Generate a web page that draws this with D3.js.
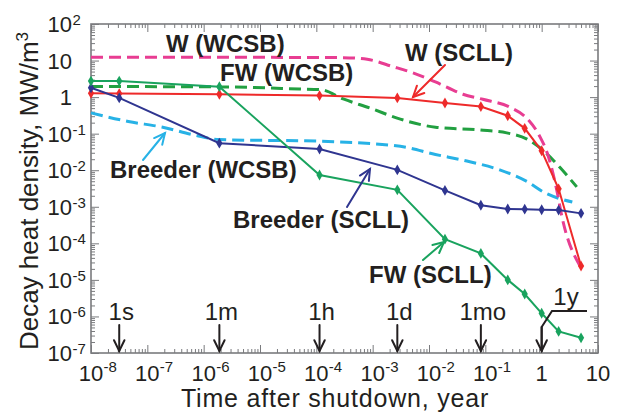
<!DOCTYPE html>
<html><head><meta charset="utf-8">
<script src="https://cdn.jsdelivr.net/npm/d3@7"></script>
<style>
html,body{margin:0;padding:0;background:#fff;}
svg{display:block;font-family:"Liberation Sans",Arial,Helvetica,sans-serif;}
</style></head><body>
<svg id="chart" width="618" height="417"></svg>
<script>
// Decay heat density after shutdown (time in years, density in MW/m^3)

// Time steps shared by the SCLL curves (with markers)
const stepTimes = [1e-8, 3.17e-8, 1.9e-6, 1.14e-4, 2.74e-3, 0.0192, 0.0833, 0.25, 0.5, 1, 2, 5];
const wScll       = [1.27, 1.25, 1.2, 1.1, 0.95, 0.69, 0.55, 0.31, 0.14, 0.034, 0.0031, 2.4e-5];
const breederScll = [1.8, 0.95, 0.055, 0.038, 0.0102, 0.0028, 0.0011, 8.7e-4, 8.6e-4, 8.3e-4, 8.1e-4, 6.6e-4];
const fwScll      = [2.75, 2.75, 1.93, 7.4e-3, 2.9e-3, 1.3e-4, 5.3e-5, 1.0e-5, 4.1e-6, 1.22e-6, 3.9e-7, 2.6e-7];

// WCSB curves (dashed)
const wWcsbTimes = [1e-8, 1e-6, 1e-4, 3e-4, 8e-4, 2.3e-3, 5.2e-3, 0.013, 0.04, 0.09, 0.28, 0.55, 0.93, 1.25, 1.85, 2.3, 4.8];
const wWcsb      = [12.3, 12.3, 12.1, 12, 10.8, 6.8, 4.6, 2.6, 1.2, 0.87, 0.52, 0.26, 0.083, 0.03, 2.9e-3, 5.2e-4, 2.4e-5];
const fwWcsbTimes = [1e-8, 1.9e-6, 5e-5, 1.2e-4, 3e-4, 9e-4, 3.1e-3, 0.013, 0.081, 0.24, 0.55, 1.06, 2.1, 4.2];
const fwWcsb      = [1.95, 1.9, 1.67, 1.6, 0.89, 0.5, 0.25, 0.15, 0.126, 0.105, 0.071, 0.035, 0.012, 3.5e-3];
const breederWcsbTimes = [1e-8, 4.6e-8, 1.8e-7, 7e-7, 1.9e-6, 1.2e-4, 3.1e-3, 0.013, 0.047, 0.18, 0.55, 1.15, 3.5];
const breederWcsb      = [0.37, 0.215, 0.152, 0.091, 0.069, 0.062, 0.045, 0.027, 0.0178, 0.0102, 0.0049, 0.0024, 0.00135];

// Axis decades
const xTickExps = [-8, -7, -6, -5, -4, -3, -2, -1, 0, 1];
const yTickExps = [-7, -6, -5, -4, -3, -2, -1, 0, 1, 2];

// Reference durations (in years)
const timeMarkLabels = ["1s", "1m", "1h", "1d", "1mo", "1y"];
const timeMarkValues = [3.17e-8, 1.9e-6, 1.14e-4, 2.74e-3, 0.0833, 1];

const svg = d3.select("#chart");
const L = 91, R = 598, T = 24, B = 353;
const x = d3.scaleLog().domain([1e-8, 10]).range([L, R]);
const y = d3.scaleLog().domain([1e-7, 100]).range([B, T]);

const ink = "#231f20";
const axisGray = "#7a7b7e";

// ---- ticks (inside, on all four sides) ----
const majorX = xTickExps.map(e => Math.pow(10, e));
const majorY = yTickExps.map(e => Math.pow(10, e));
const minorX = [], minorY = [];
xTickExps.slice(0, -1).forEach(e => { for (let k = 2; k <= 9; k++) minorX.push(k * Math.pow(10, e)); });
yTickExps.slice(0, -1).forEach(e => { for (let k = 2; k <= 9; k++) minorY.push(k * Math.pow(10, e)); });

function tickAxis(gen, vals, size, tr) {
  const g = svg.append("g").attr("transform", tr)
    .call(gen.tickValues(vals).tickSizeInner(size).tickSizeOuter(0).tickFormat(""));
  g.select(".domain").remove();
  g.selectAll("text").remove();
  g.selectAll("line").attr("stroke", axisGray).attr("stroke-width", 1);
  return g;
}
tickAxis(d3.axisBottom(x), majorX, -8, `translate(0,${B})`);
tickAxis(d3.axisBottom(x), minorX, -4, `translate(0,${B})`);
tickAxis(d3.axisTop(x), majorX, -8, `translate(0,${T})`);
tickAxis(d3.axisTop(x), minorX, -4, `translate(0,${T})`);
tickAxis(d3.axisLeft(y), majorY, -8, `translate(${L},0)`);
tickAxis(d3.axisLeft(y), minorY, -4, `translate(${L},0)`);
tickAxis(d3.axisRight(y), majorY, -8, `translate(${R},0)`);
tickAxis(d3.axisRight(y), minorY, -4, `translate(${R},0)`);

svg.append("rect").attr("x", L).attr("y", T).attr("width", R - L).attr("height", B - T)
  .attr("fill", "none").attr("stroke", axisGray).attr("stroke-width", 1.6);

// ---- tick labels with superscript exponents ----
const xl = svg.append("g").attr("fill", ink);
xTickExps.forEach(e => {
  const cx = x(Math.pow(10, e));
  if (e === 0 || e === 1) {
    xl.append("text").attr("x", cx).attr("y", 381).attr("text-anchor", "middle")
      .attr("font-size", 22).text(e === 0 ? "1" : "10");
  } else {
    xl.append("text").attr("x", cx).attr("y", 381).attr("text-anchor", "middle")
      .attr("font-size", 22).text("10");
    xl.append("text").attr("x", cx + 12.5).attr("y", 372).attr("font-size", 15).text(String(e));
  }
});
const yl = svg.append("g").attr("fill", ink);
yTickExps.forEach(e => {
  const cy = y(Math.pow(10, e));
  yl.append("text").attr("x", 72).attr("y", cy + 8).attr("text-anchor", "end")
    .attr("font-size", 22).text(e === 0 ? "1" : "10");
  if (e !== 0 && e !== 1) {
    yl.append("text").attr("x", 72.5).attr("y", cy + 1).attr("font-size", 15).text(String(e));
  }
});

// ---- axis titles ----
svg.append("text").attr("x", 335).attr("y", 407).attr("text-anchor", "middle")
  .attr("font-size", 25).attr("letter-spacing", 0.8).attr("fill", ink).text("Time after shutdown, year");
const yt = svg.append("text").attr("transform", "translate(38,191) rotate(-90)")
  .attr("text-anchor", "middle").attr("font-size", 26).attr("fill", ink);
yt.append("tspan").text("Decay heat density, MW/m");
yt.append("tspan").attr("dy", -10).attr("font-size", 17).text("3");

// ---- curves ----
const line = d3.line().x(d => x(d[0])).y(d => y(d[1]));
const smooth = d3.line().x(d => x(d[0])).y(d => y(d[1])).curve(d3.curveMonotoneX);
const zip = (t, v) => t.map((ti, i) => [ti, v[i]]);

const dashed = [
  { t: breederWcsbTimes, v: breederWcsb, c: "#27b2e6" },
  { t: fwWcsbTimes, v: fwWcsb, c: "#22a041" },
  { t: wWcsbTimes, v: wWcsb, c: "#e83d92" }
];
dashed.forEach(s => {
  svg.append("path").attr("d", smooth(zip(s.t, s.v))).attr("fill", "none")
    .attr("stroke", s.c).attr("stroke-width", 3).attr("stroke-dasharray", "12,6");
});

const solid = [
  { v: wScll, c: "#ee2a2a" },
  { v: breederScll, c: "#2f3590" },
  { v: fwScll, c: "#19a35e" }
];
const diamond = d3.symbol().type(d3.symbolDiamond).size(34);
solid.forEach(s => {
  const pts = zip(stepTimes, s.v);
  svg.append("path").attr("d", line(pts)).attr("fill", "none")
    .attr("stroke", s.c).attr("stroke-width", 2);
  svg.append("g").selectAll("path").data(pts).join("path")
    .attr("d", diamond).attr("fill", s.c)
    .attr("transform", d => `translate(${x(d[0])},${y(d[1])})`);
});

// ---- arrows ----
function arrow(x1, y1, x2, y2, color, w) {
  const a = Math.atan2(y2 - y1, x2 - x1), len = 12, sp = 0.45;
  const g = svg.append("g").attr("stroke", color).attr("stroke-width", w)
    .attr("fill", "none").attr("stroke-linecap", "round");
  g.append("line").attr("x1", x1).attr("y1", y1).attr("x2", x2).attr("y2", y2);
  g.append("path").attr("d",
    `M${x2 - len * Math.cos(a - sp)},${y2 - len * Math.sin(a - sp)}L${x2},${y2}L${x2 - len * Math.cos(a + sp)},${y2 - len * Math.sin(a + sp)}`);
}
arrow(445, 65, 413, 97, "#ee2a2a", 2);
arrow(143, 160, 165, 133, "#27b2e6", 2);
arrow(347, 207, 370, 169, "#2f3590", 2);
arrow(423, 260, 444, 242, "#19a35e", 2);

// ---- series labels ----
const labels = [
  { t: "W (WCSB)", x: 166, y: 52 },
  { t: "FW (WCSB)", x: 220, y: 81 },
  { t: "W (SCLL)", x: 405, y: 61 },
  { t: "Breeder (WCSB)", x: 110, y: 178 },
  { t: "Breeder (SCLL)", x: 233, y: 228 },
  { t: "FW (SCLL)", x: 369, y: 283 }
];
svg.append("g").selectAll("text").data(labels).join("text")
  .attr("x", d => d.x).attr("y", d => d.y).attr("font-size", 24)
  .attr("font-weight", "bold").attr("fill", ink).text(d => d.t);

// ---- reference durations ----
timeMarkLabels.forEach((lab, i) => {
  const mx = x(timeMarkValues[i]);
  if (lab === "1y") {
    svg.append("text").attr("x", 566).attr("y", 305).attr("text-anchor", "middle")
      .attr("font-size", 24).attr("fill", ink).text(lab);
    svg.append("path").attr("d", `M587,311H552L${mx},327V351`).attr("fill", "none")
      .attr("stroke", ink).attr("stroke-width", 2);
    arrow(mx, 327, mx, 351, ink, 2);
  } else {
    svg.append("text").attr("x", mx + 2).attr("y", 320).attr("text-anchor", "middle")
      .attr("font-size", 24).attr("fill", ink).text(lab);
    arrow(mx, 325, mx, 351, ink, 2);
  }
});
</script>
</body></html>
